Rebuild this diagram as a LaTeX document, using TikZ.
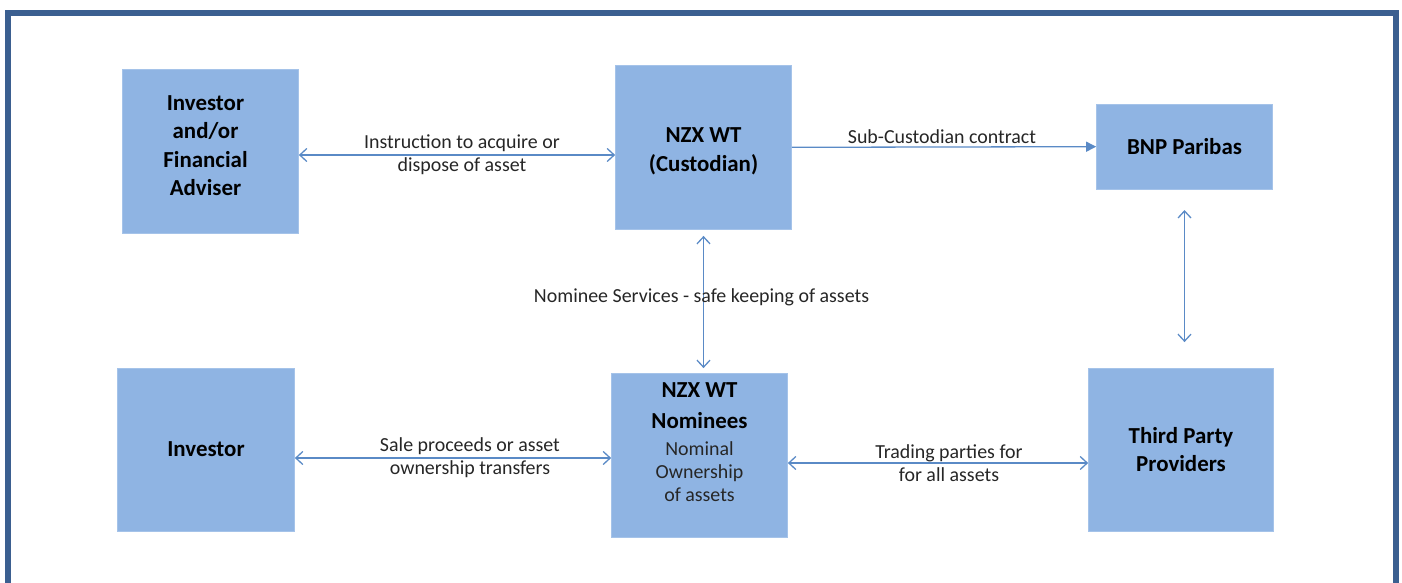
\documentclass[tikz,border=0pt]{standalone}
\usepackage{fontspec}
\setmainfont{Carlito}
\usepackage{tikz}
\usetikzlibrary{arrows.meta,positioning}

\definecolor{boxblue}{RGB}{143,180,227}
\definecolor{linkblue}{RGB}{90,138,198}
\definecolor{framblue}{RGB}{59,95,144}
\newcommand{\plaintxt}{\mdseries\fontsize{20}{23}\selectfont}
\newcommand{\boldtxt}{\bfseries\fontsize{23}{28.5}\selectfont}

\tikzset{
  box/.style={fill=boxblue,draw=boxblue!80!white,inner sep=0pt,align=center,
    minimum width=177,minimum height=165,font=\boldtxt},
  boxtxt/.style={align=center,font=\boldtxt},
  link/.style={draw=linkblue,line width=1.3bp,{Straight Barb[length=7bp,width=13bp]}-{Straight Barb[length=7bp,width=13bp]}},
  onelink/.style={draw=linkblue,line width=1.3bp,-{Triangle[length=10bp,width=10bp]}},
  lbl/.style={font=\plaintxt,align=center,text=black!85}
}

\begin{document}
\begin{tikzpicture}[x=1bp,y=-1bp]
\useasboundingbox (0,0) rectangle (1402,583);
\begin{scope}
  \clip (0,0) rectangle (1402,583);
  \draw[framblue,line width=6bp] (8,600) -- (8,13) -- (1396,13) -- (1396,600);
\end{scope}
%% boxes
\node[box] (adv) at (210.5,151.5) {};
\node[box] (cust) at (703.5,147.5) {};
\node[box,minimum height=85] (bnp) at (1184.5,146.5) {BNP Paribas};
\node[box,minimum width=178,minimum height=163] (inv) at (206,449.5) {Investor};
\node[box] (nom) at (699.5,455.5) {};
\node[box,minimum width=186,minimum height=163] (tpp) at (1181,449.5) {Third Party\\ Providers};
%% box texts
\node[boxtxt] (advtxt) at (205.5,145.5) {Investor\\ and/or\\ Financial\\ Adviser};
\node[boxtxt] (custtxt) at (703.5,151.5) {NZX WT\\ (Custodian)};
\node[boxtxt,font=\bfseries\fontsize{23}{31}\selectfont,anchor=north] (nomtop) at (699.5,379) {NZX WT\\ Nominees};
\node[lbl,anchor=north] (nomtxt) at (699.5,438) {Nominal\\ Ownership\\ of assets};
%% connectors
\draw[link] ([yshift=-3.5bp]adv.east) -- ([yshift=-3.5bp]adv.east -| cust.west)
  node[lbl,midway,xshift=5] {Instruction to acquire or\\ dispose of asset};
\draw[onelink] (cust) -- (bnp) node[lbl,midway,above=1,xshift=-2] {Sub-Custodian contract};
\draw[link,shorten <=6bp,shorten >=5bp] (cust.south) -- (cust.south |- nom.north)
  node[lbl,midway,xshift=-2,yshift=4] {Nominee Services - safe keeping of assets};
\draw[link,shorten <=21bp,shorten >=26bp] (bnp.south) -- (bnp.south |- tpp.north);
\draw[link] ([yshift=-8.5bp]inv.east) -- ([yshift=-8.5bp]inv.east -| nom.west)
  node[lbl,midway,xshift=17] {Sale proceeds or asset\\ ownership transfers};
\draw[link] ([yshift=-7.5bp]nom.east) -- ([yshift=-7.5bp]nom.east -| tpp.west)
  node[lbl,midway,xshift=11] {Trading parties for\\ for all assets};
\end{tikzpicture}
\end{document}
